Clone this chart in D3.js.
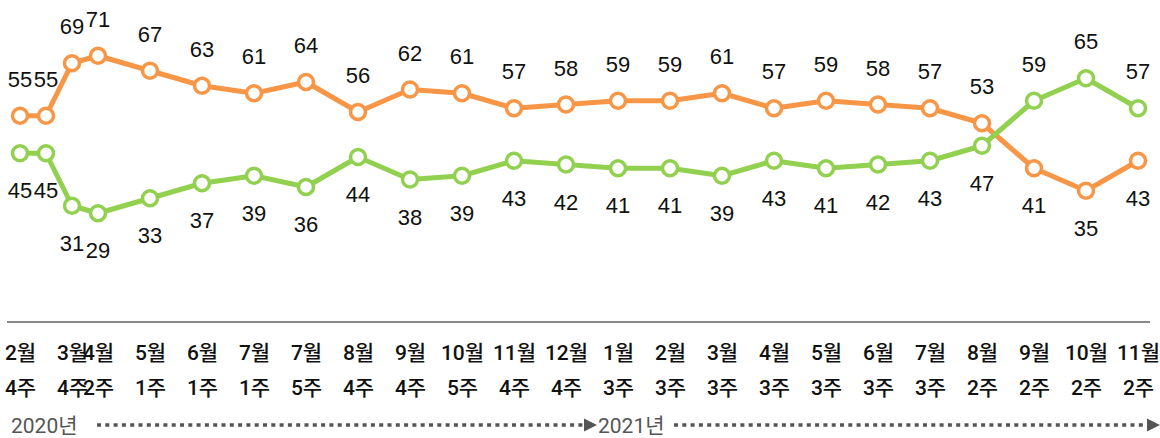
<!DOCTYPE html>
<html>
<head>
<meta charset="utf-8">
<script src="https://cdn.jsdelivr.net/npm/d3@7"></script>
<style>
  body { margin: 0; background: #fff; }
  svg { display: block; }
</style>
</head>
<body>
<svg id="chart" width="1160" height="438"></svg>
<script>
// survey periods (month / week), second survey has no tick label
const months = ['2월', '', '3월', '4월', '5월', '6월', '7월', '7월', '8월', '9월', '10월', '11월',
  '12월', '1월', '2월', '3월', '4월', '5월', '6월', '7월', '8월', '9월', '10월', '11월'];
const weeks = ['4주', '', '4주', '2주', '1주', '1주', '1주', '5주', '4주', '4주', '5주', '4주',
  '4주', '3주', '3주', '3주', '3주', '3주', '3주', '3주', '2주', '2주', '2주', '2주'];
// spacing between surveys in half steps (biweekly early on, then monthly)
const gaps = [0, 1, 1, 1, 2, 2, 2, 2, 2, 2, 2, 2, 2, 2, 2, 2, 2, 2, 2, 2, 2, 2, 2, 2];
const orangeValues = [55, 55, 69, 71, 67, 63, 61, 64, 56, 62, 61, 57, 58, 59, 59, 61, 57, 59, 58, 57, 53, 41, 35, 43];
const greenValues = [45, 45, 31, 29, 33, 37, 39, 36, 44, 38, 39, 43, 42, 41, 41, 39, 43, 41, 42, 43, 47, 59, 65, 57];
const yearLabels = ['2020년', '2021년'];

const svg = d3.select('#chart');
const slots = d3.cumsum(gaps);

const x = d3.scaleLinear()
  .domain([0, d3.max(slots)])
  .range([20, 1138]);

const y = d3.scaleLinear()
  .domain([0, 100])
  .range([322, -53]);

const series = [
  { name: 'orange', color: '#f79646', values: orangeValues, other: greenValues },
  { name: 'green', color: '#92d050', values: greenValues, other: orangeValues },
];

// x axis with two-line labels
const axisG = svg.append('g')
  .attr('transform', `translate(0, ${y(0)})`)
  .call(d3.axisBottom(x).tickValues(slots).tickSize(0).tickFormat((d, i) => i))
  .call((g) => g.select('.domain').remove());

axisG.selectAll('.tick text')
  .attr('y', 0)
  .attr('dy', null)
  .attr('fill', '#111')
  .style('font-family', "Roboto, 'Noto Sans CJK KR', sans-serif")
  .style('font-size', '21px')
  .style('font-weight', 500)
  .each(function (d, i) {
    const t = d3.select(this).text(null);
    t.append('tspan').attr('x', 0).attr('y', 38).text(months[i]);
    t.append('tspan').attr('x', 0).attr('y', 73).text(weeks[i]);
  });

svg.append('line')
  .attr('x1', 7)
  .attr('x2', 1150)
  .attr('y1', y(0))
  .attr('y2', y(0))
  .attr('stroke', '#888')
  .attr('stroke-width', 2);

const line = d3.line()
  .x((d, i) => x(slots[i]))
  .y((d) => y(d));

series.forEach((s) => {
  const g = svg.append('g').attr('class', s.name);

  g.append('path')
    .datum(s.values)
    .attr('d', line)
    .attr('fill', 'none')
    .attr('stroke', s.color)
    .attr('stroke-width', 5)
    .attr('stroke-linejoin', 'round');

  g.selectAll('circle')
    .data(s.values)
    .enter()
    .append('circle')
    .attr('cx', (d, i) => x(slots[i]))
    .attr('cy', (d) => y(d))
    .attr('r', 7.5)
    .attr('fill', '#fff')
    .attr('stroke', s.color)
    .attr('stroke-width', 3.5);
});

// value labels: higher series above its point, lower series below
series.forEach((s) => {
  svg.append('g')
    .selectAll('text')
    .data(s.values)
    .enter()
    .append('text')
    .attr('x', (d, i) => x(slots[i]))
    .attr('y', (d, i) => (d >= s.other[i] ? y(d) - 29 : y(d) + 45))
    .attr('text-anchor', 'middle')
    .attr('fill', '#111')
    .style('font-family', "'Liberation Sans', Arial, sans-serif")
    .style('font-size', '22px')
    .text((d) => d);
});

// year markers with dotted arrows
const yearG = svg.append('g')
  .attr('fill', '#555')
  .style('font-family', "Roboto, 'Noto Sans CJK KR', sans-serif")
  .style('font-size', '21px');

yearG.append('text').attr('x', 11).attr('y', 433).text(yearLabels[0]);
yearG.append('text').attr('x', 598).attr('y', 433).text(yearLabels[1]);

[[97, 584], [674, 1147]].forEach(([x1, x2]) => {
  yearG.append('line')
    .attr('x1', x1)
    .attr('x2', x2)
    .attr('y1', 425)
    .attr('y2', 425)
    .attr('stroke', '#555')
    .attr('stroke-width', 3.5)
    .attr('stroke-dasharray', '4 4.3');
  yearG.append('path')
    .attr('d', `M${x2},418.5L${x2 + 13},425L${x2},431.5Z`)
    .attr('fill', '#555');
});
</script>
</body>
</html>
